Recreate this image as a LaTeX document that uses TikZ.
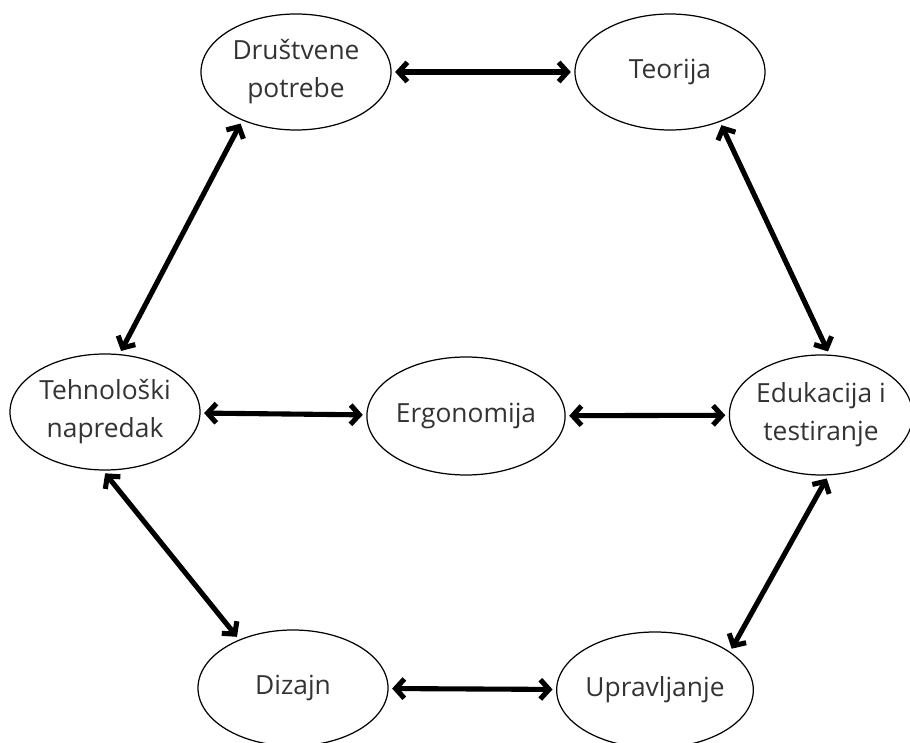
\documentclass[tikz,border=0pt]{standalone}
\usepackage{fontspec}
\setmainfont{Open Sans}
\usetikzlibrary{shapes.geometric,arrows.meta}

\tikzset{
  bubble/.style={ellipse, draw, line width=0.7pt, inner sep=0pt,
    minimum width=3.8cm, minimum height=2.32cm, align=center,
    text=black!80, font=\fontsize{15}{21.6}\selectfont},
  link/.style={line width=2.9pt, {Straight Barb[length=5pt,width=11pt]}-{Straight Barb[length=5pt,width=11pt]},
    shorten <=2pt, shorten >=2pt}
}

\begin{document}
\begin{tikzpicture}

\useasboundingbox (0,0) rectangle (18.2,14.86);

\node [bubble] (dp) at (5.92,13.42) {Društvene\\potrebe};
\node [bubble] (te) at (13.40,13.42) {Teorija};
\node [bubble] (tn) at (2.10,6.62) {Tehnološki\\napredak};
\node [bubble, minimum width=3.6cm, minimum height=2.36cm] (er) at (9.32,6.54) {Ergonomija};
\node [bubble, minimum width=3.6cm, minimum height=2.4cm] (ed) at (16.42,6.56) {Edukacija i\\testiranje};
\node [bubble] (di) at (5.86,1.10) {Dizajn};
\node [bubble] (up) at (13.10,1.06) {Upravljanje};

% horizontal links
\draw [link] (dp) -- (te);
\draw [link] (tn) -- (er);
\draw [link] (er) -- (ed);
\draw [link] (di) -- (up);

% slanted links
\draw [link] (dp.222) -- (tn.76);
\draw [link] (te.315) -- (ed.82);
\draw [link] (tn.268) -- (di.138);
\draw [link] (ed.277) -- (up.27);

\end{tikzpicture}
\end{document}
